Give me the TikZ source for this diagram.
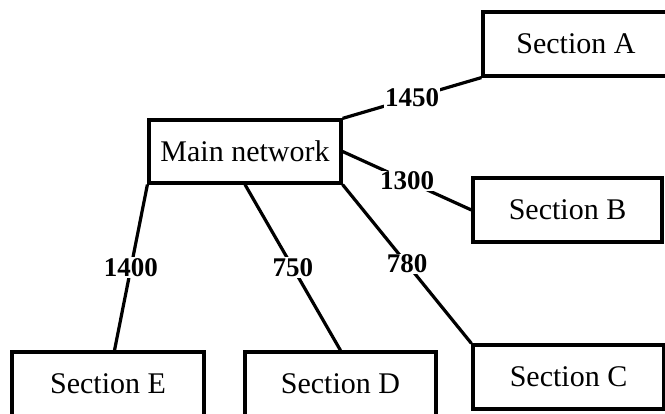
\documentclass[tikz,border=0pt]{standalone}
\usepackage{fontspec}
\setmainfont{Liberation Serif}
\usetikzlibrary{calc}
\begin{document}
\begin{tikzpicture}[x=1pt,y=-1pt,
  sect/.style={draw,line width=3.2pt,minimum width=#1,minimum height=64pt,inner sep=0pt,font=\fontsize{30}{31}\selectfont},
  sect/.default=190pt,
  conn/.style={line width=3.2pt},
  wt/.style={fill=white,inner sep=1pt,font=\bfseries\fontsize{27}{28}\selectfont}]
\useasboundingbox (0,0) rectangle (665,414);
\clip (0,0) rectangle (665,414);
\node[sect=192pt,minimum height=63pt] (M) at (245,151.5) {Main network};
\node[sect=186pt] (A) at (576,44) {Section A};
\node[sect=189pt] (B) at (567.5,210) {Section B};
\node[sect=191pt] (C) at (568.5,377) {Section C};
\node[sect=191pt] (D) at (340.5,384) {Section D};
\node[sect=192pt] (E) at (108,384) {Section E};
\draw[conn] (M.north east) -- node[wt] (l1) {1450} (A.south west);
\draw[conn] (M.east) -- node[wt] (l2) {1300} (B.west);
\draw[conn] (M.south east) -- node[wt] (l3) {780} (C.north west);
\draw[conn] (M.south) -- node[wt] (l4) {750} (D.north);
\draw[conn] (M.south west) -- node[wt] (l5) {1400} ($(E.north)+(6.5,0)$);
\end{tikzpicture}
\end{document}
